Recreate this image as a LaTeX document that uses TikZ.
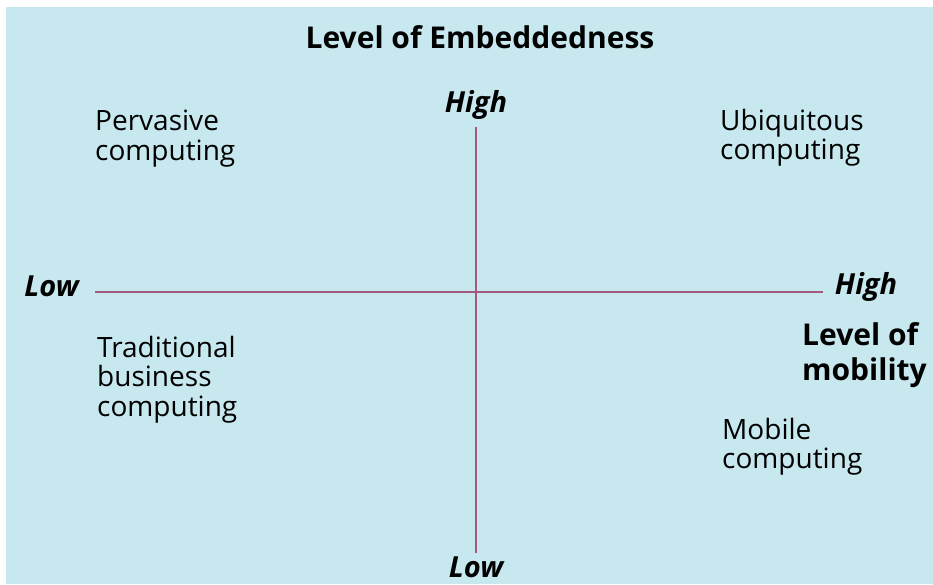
\documentclass[tikz,border=0pt]{standalone}
\usepackage{fontspec}
\setmainfont{Open Sans}
\definecolor{bgblue}{HTML}{C6E8EE}
\definecolor{axis}{HTML}{A5587F}
\begin{document}
\begin{tikzpicture}[x=1pt,y=-1pt,
  lbl/.style={font=\fontsize{28}{29.5}\selectfont, align=left, inner sep=0pt, anchor=north west},
  ttl/.style={font=\fontsize{30}{35}\selectfont\bfseries, inner sep=0pt},
  tick/.style={font=\fontsize{29}{26}\selectfont\bfseries\itshape, inner sep=0pt, anchor=base},
  axisline/.style={draw=axis, line width=2.5pt}]
\useasboundingbox (0,0) rectangle (933,584);
\fill[white] (0,0) rectangle (933,584);
\fill[bgblue] (6,7) rectangle (933,584);
\node[ttl, anchor=base] (title) at (480,48) {Level of Embeddedness};
\node[tick] (vhigh) at (476,112) {High};
\node[tick] (vlow) at (476,577) {Low};
\node[tick] (hlow) at (51.5,296) {Low};
\node[tick] (hhigh) at (866,294) {High};
\coordinate (vt) at (476,127);
\coordinate (vb) at (476,553);
\coordinate (hl) at (95,292);
\coordinate (hr) at (823,292);
\draw[axisline] (vt) -- (vb);
\draw[axisline] (hl) -- (hr);
\node[lbl] (perv) at (95,110) {Pervasive\\computing};
\node[lbl] (ubiq) at (720,109) {Ubiquitous\\computing};
\node[lbl] (trad) at (97,336) {Traditional\\business\\computing};
\node[lbl] (mob) at (722,418) {Mobile\\computing};
\node[ttl, align=left, anchor=north west] (mobil) at (802,322) {Level of\\mobility};
\end{tikzpicture}
\end{document}
